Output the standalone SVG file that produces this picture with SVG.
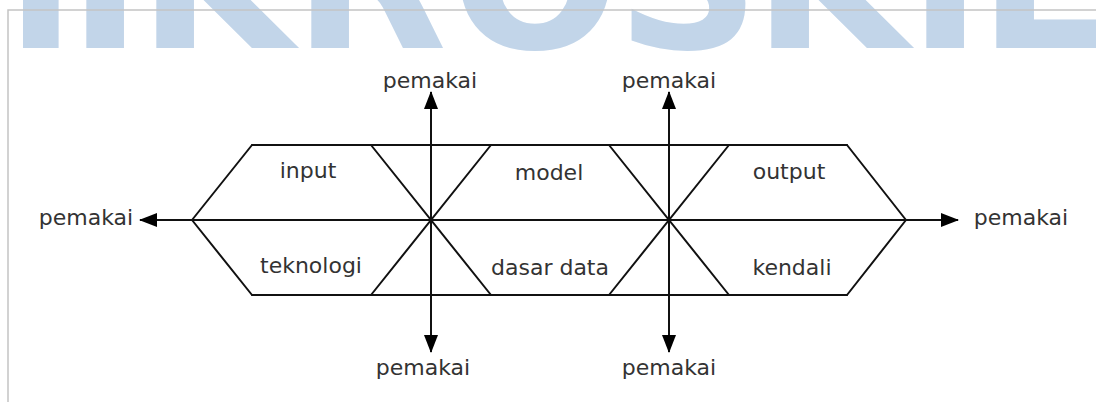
<svg xmlns="http://www.w3.org/2000/svg" width="1096" height="403" viewBox="0 0 1096 403">
  <defs>
    <marker id="ah" markerWidth="18" markerHeight="14" refX="17" refY="7" orient="auto" markerUnits="userSpaceOnUse">
      <path d="M0,0 L18,7 L0,14 Z" fill="#000"/>
    </marker>
  </defs>
  <style>
    .wm { font-family: "DejaVu Sans", sans-serif; font-weight: bold; font-size: 200px; fill: #c2d5e9; }
    .frame { stroke: #c4c4c4; stroke-width: 1.5; fill: none; }
    .ln { stroke: #111; stroke-width: 2; fill: none; stroke-linecap: round; }
    .arr { stroke: #111; stroke-width: 2; fill: none; marker-end: url(#ah); }
    .lbl { font-family: "DejaVu Sans", sans-serif; font-size: 22px; fill: #333; text-anchor: middle; }
  </style>
  <rect width="1096" height="403" fill="#fff"/>
  <g id="watermark">
    <text class="wm" y="48" x="-122 68 138 293 450 616 753 908 978">MIKROSKIL</text>
  </g>
  <g id="frame">
    <path class="frame" d="M8,402 L8,10 L1096,10"/>
  </g>
  <g id="connectors">
    <path class="ln" d="M252,145 L847,145"/>
    <path class="ln" d="M252,295 L847,295"/>
    <path class="ln" d="M192,220 L252,145 M192,220 L252,295"/>
    <path class="ln" d="M906,220 L847,145 M906,220 L847,295"/>
    <path class="ln" d="M371,145 L491,295 M491,145 L371,295"/>
    <path class="ln" d="M609,145 L729,295 M729,145 L609,295"/>
    <path class="arr" d="M549,220 L140,220"/>
    <path class="arr" d="M549,220 L958,220"/>
    <path class="arr" d="M431,220 L431,92"/>
    <path class="arr" d="M431,220 L431,352"/>
    <path class="arr" d="M669,220 L669,92"/>
    <path class="arr" d="M669,220 L669,352"/>
  </g>
  <g id="node-input"><text class="lbl" x="308" y="178">input</text></g>
  <g id="node-teknologi"><text class="lbl" x="311" y="273">teknologi</text></g>
  <g id="node-model"><text class="lbl" x="549" y="180">model</text></g>
  <g id="node-dasar-data"><text class="lbl" x="550" y="275">dasar data</text></g>
  <g id="node-output"><text class="lbl" x="789" y="179">output</text></g>
  <g id="node-kendali"><text class="lbl" x="792" y="275">kendali</text></g>
  <g id="pemakai-top-1"><text class="lbl" x="430" y="88">pemakai</text></g>
  <g id="pemakai-top-2"><text class="lbl" x="669" y="88">pemakai</text></g>
  <g id="pemakai-bottom-1"><text class="lbl" x="423" y="375">pemakai</text></g>
  <g id="pemakai-bottom-2"><text class="lbl" x="669" y="375">pemakai</text></g>
  <g id="pemakai-left"><text class="lbl" x="86" y="225">pemakai</text></g>
  <g id="pemakai-right"><text class="lbl" x="1021" y="225">pemakai</text></g>
</svg>
